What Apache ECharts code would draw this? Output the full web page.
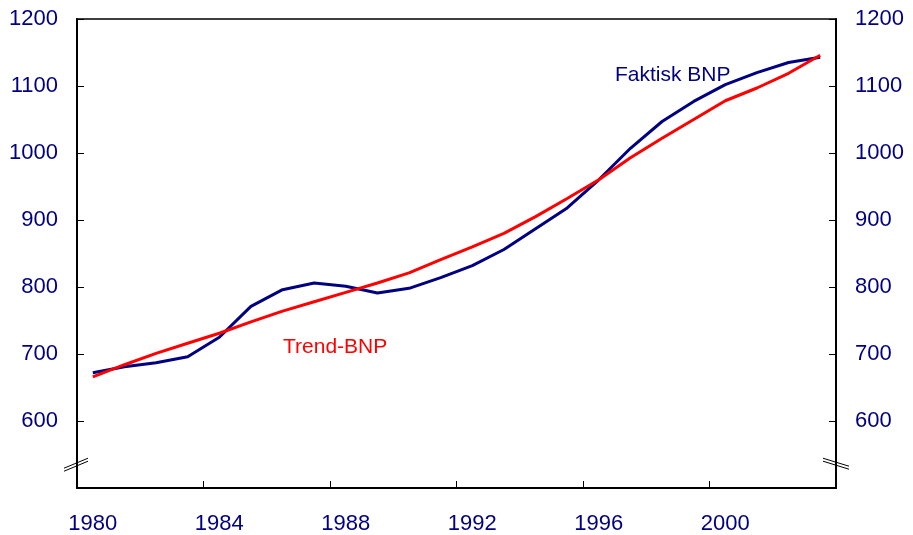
<!DOCTYPE html>
<html>
<head>
<meta charset="utf-8">
<script src="https://cdn.jsdelivr.net/npm/echarts@6/dist/echarts.min.js"></script>
<style>
html,body{margin:0;padding:0;background:#fff;}
#chart{width:913px;height:535px;}
</style>
</head>
<body>
<div id="chart"></div>
<script>
var years = ['1980','1981','1982','1983','1984','1985','1986','1987','1988','1989','1990','1991','1992','1993','1994','1995','1996','1997','1998','1999','2000','2001','2002','2003'];
var faktiskBNP = [672, 681, 687, 696, 725, 771, 796, 806, 801, 791, 798, 814, 832, 856, 887, 918, 960, 1007, 1047, 1077, 1102, 1120, 1135, 1143];
var trendBNP = [666, 684, 701, 716, 731, 748, 764, 778, 792, 806, 821, 841, 860, 880, 905, 932, 960, 993, 1022, 1050, 1078, 1097, 1119, 1146];
var yTicks = [600, 700, 800, 900, 1000, 1100, 1200];
var seriesNames = ['Faktisk BNP', 'Trend-BNP'];

var navy = '#000080';
var font = 'Arial, "Liberation Sans", sans-serif';
var chart = echarts.init(document.getElementById('chart'));

function yAxis(pos) {
  return {
    type: 'value', position: pos, min: 500, max: 1200, interval: 100,
    axisLine: {show: true, lineStyle: {color: '#000', width: 2}},
    axisTick: {show: true, inside: true, length: 7, lineStyle: {color: '#000', width: 1}},
    splitLine: {show: false},
    axisLabel: {
      color: navy, fontSize: 22, fontFamily: font, margin: 19,
      formatter: function (v) { return yTicks.indexOf(v) >= 0 ? String(v) : ''; }
    }
  };
}

chart.setOption({
  animation: false,
  backgroundColor: '#fff',
  grid: {left: 77, right: 77, top: 19, bottom: 47, show: true, borderColor: '#000', borderWidth: 1.5, containLabel: false},
  xAxis: {
    type: 'category', data: years, boundaryGap: true,
    axisLine: {show: true, lineStyle: {color: '#000', width: 2}},
    axisTick: {show: true, inside: true, length: 7, interval: 3, lineStyle: {color: '#000', width: 1}},
    axisLabel: {interval: 3, color: navy, fontSize: 22, fontFamily: font, margin: 25}
  },
  yAxis: [yAxis('left'), yAxis('right')],
  series: [
    {name: seriesNames[0], type: 'line', data: faktiskBNP, showSymbol: false, symbol: 'none',
     lineStyle: {color: navy, width: 3}, itemStyle: {color: navy}},
    {name: seriesNames[1], type: 'line', data: trendBNP, showSymbol: false, symbol: 'none',
     lineStyle: {color: '#ff0000', width: 3}, itemStyle: {color: '#ff0000'}}
  ]
});

var yb = chart.convertToPixel({yAxisIndex: 0}, 537);
function brk(x1, y1, x2, y2) {
  return {type: 'line', shape: {x1: x1, y1: y1, x2: x2, y2: y2}, style: {stroke: '#000', lineWidth: 1}, z: 100};
}
chart.setOption({
  graphic: [
    brk(64, yb + 5, 88, yb - 5),
    brk(64, yb + 8, 88, yb - 2),
    brk(823, yb - 5, 849, yb + 3),
    brk(823, yb - 2, 849, yb + 6),
    {type: 'text', left: 615, top: 65, z: 100,
     style: {text: seriesNames[0], fill: navy, font: '21px ' + font}},
    {type: 'text', left: 283, top: 337, z: 100,
     style: {text: seriesNames[1], fill: '#ff0000', font: '21px ' + font}}
  ]
});
</script>
</body>
</html>
